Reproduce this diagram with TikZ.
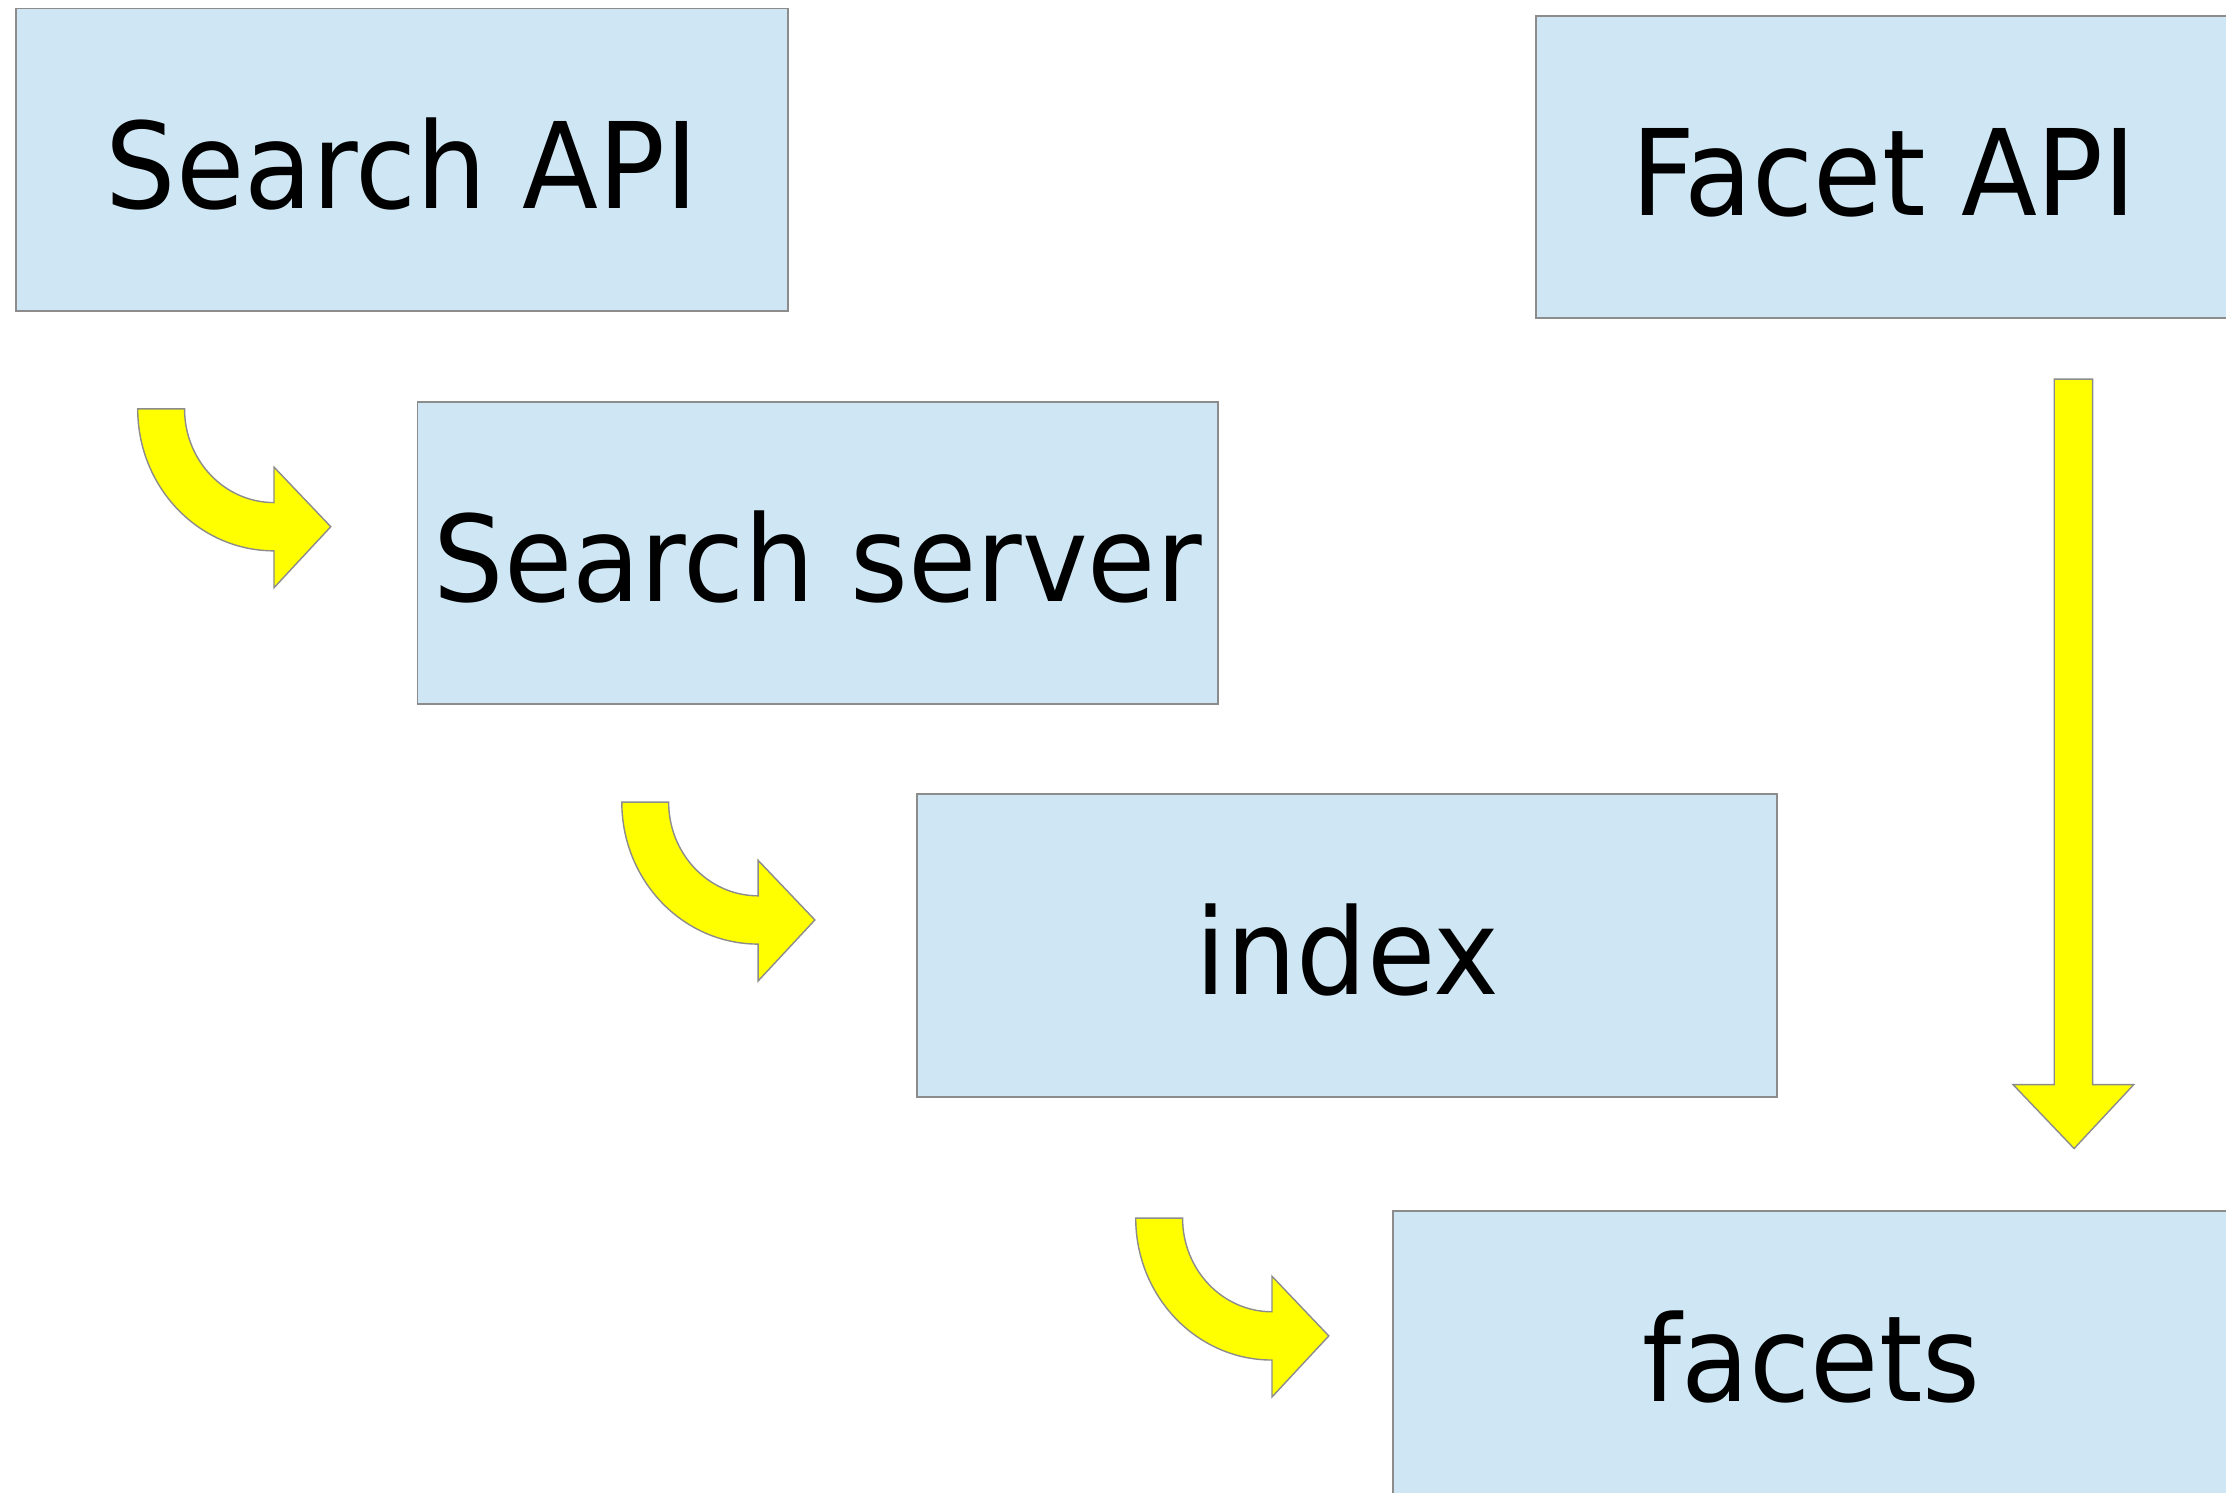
\documentclass[tikz,border=0pt]{standalone}
\usepackage{fontspec}
\setmainfont[FakeStretch=0.93]{DejaVu Sans}
\usepackage{tikz}
\usetikzlibrary{positioning}
\definecolor{boxblue}{HTML}{CFE7F5}
\definecolor{boxline}{HTML}{8C8C8C}
\definecolor{arrowyellow}{HTML}{FFFF00}
\tikzset{box/.style={draw=boxline,line width=0.5pt,fill=boxblue,
    minimum height=3.025cm,inner sep=0pt,text height=27.8pt,text depth=0pt,
    font=\fontsize{34}{40}\selectfont},
  blockarrow/.style={draw=boxline,line width=0.4pt,fill=arrowyellow}}
\newcommand{\bendarrow}[1]{%
  \draw[blockarrow,shift={#1}] (-96,0) -- (-63,0)
    arc[start angle=180,end angle=90,x radius=63,y radius=66]
    -- (0,41) -- (40,83) -- (0,126) -- (0,100)
    arc[start angle=90,end angle=180,x radius=96,y radius=100] -- cycle;}

\begin{document}
\begin{tikzpicture}[x=0.0142cm,y=-0.0142cm]
    \useasboundingbox (0,0) rectangle (1568,1051);

    \node (api) [box,minimum width=7.725cm] at (283,112.5) {Search API};
    \node (facetapi) [box,minimum width=6.958cm] at (1327,117.5) {Facet API};
    \node (server) [box,minimum width=8.009cm] at (576,389.5) {Search server};
    \node (index) [box,minimum width=8.605cm] at (949,666) {index};
    \node (facets) [box,minimum width=8.378cm,minimum height=2.826cm] at (1276,952.5) {facets};

    \bendarrow{(193,288)}
    \bendarrow{(534,565)}
    \bendarrow{(896,858)}

    \draw[blockarrow] (1447,267) -- (1474,267) -- (1474,764) -- (1503,764)
      -- (1461,809) -- (1418,764) -- (1447,764) -- cycle;
\end{tikzpicture}
\end{document}
